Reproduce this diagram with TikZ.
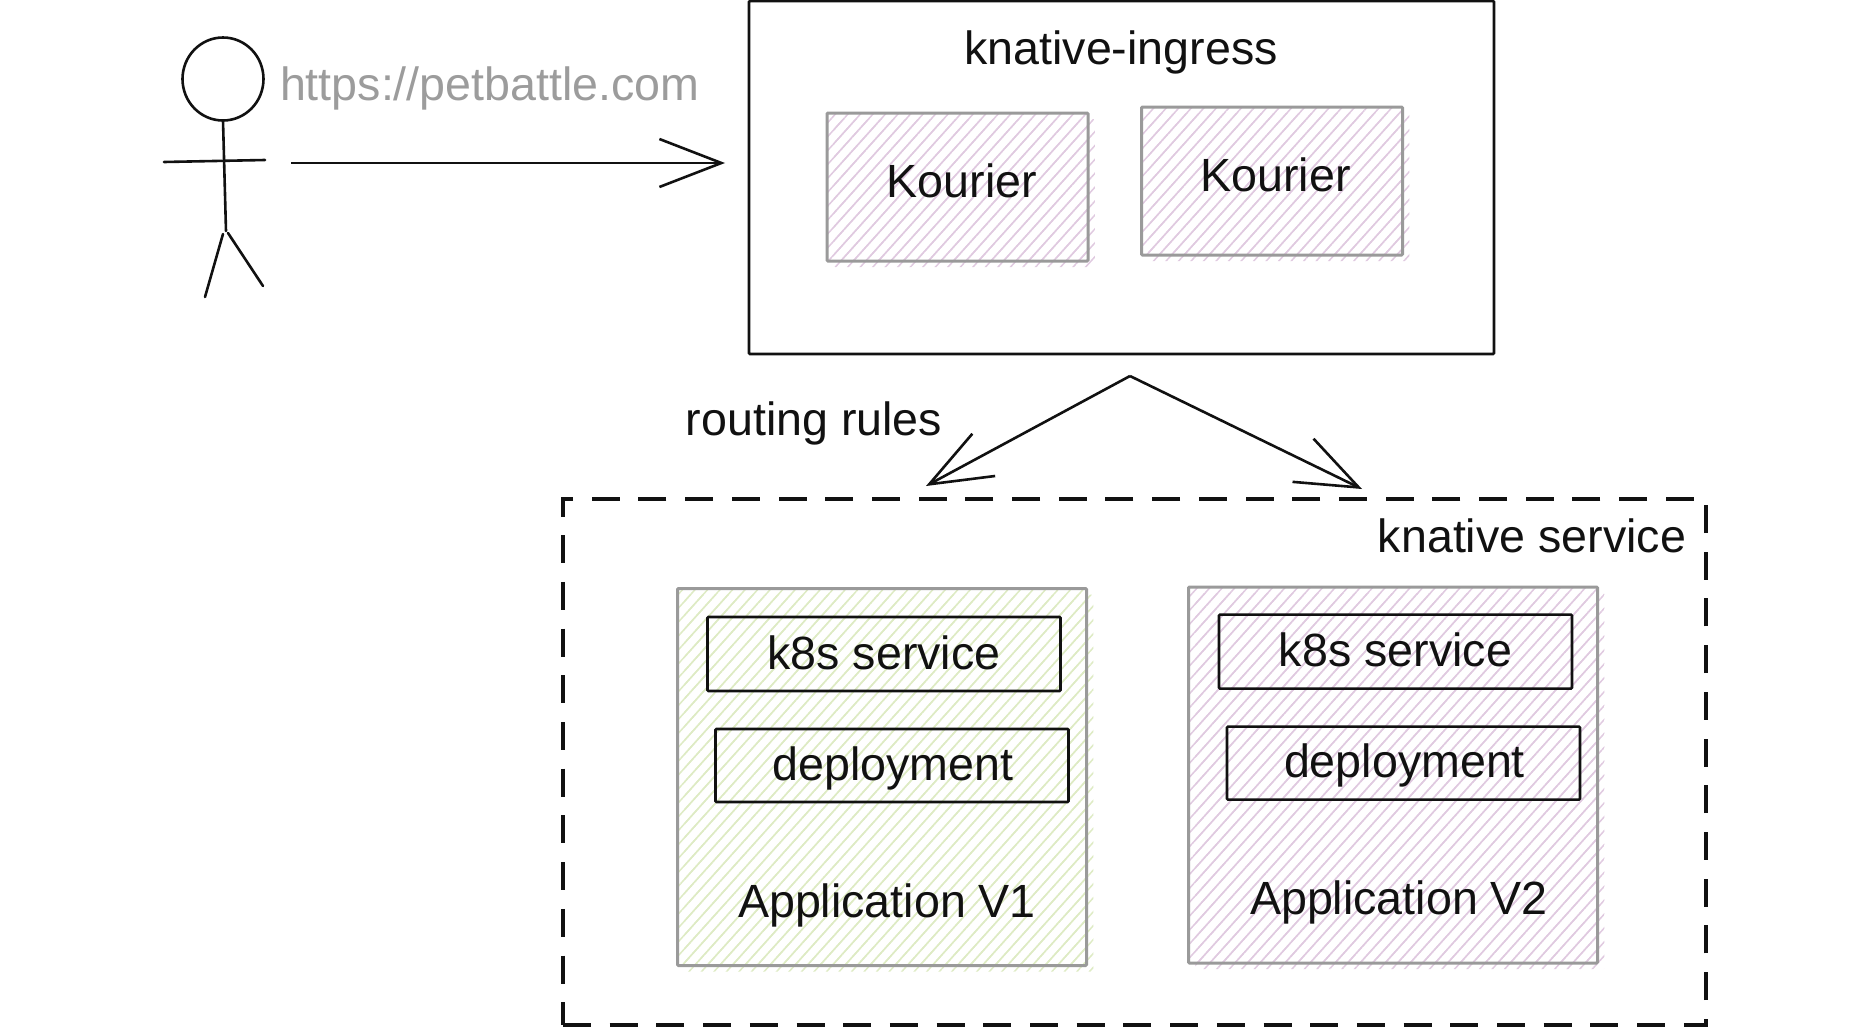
\documentclass[tikz,border=0pt]{standalone}
\usepackage{fontspec}
\setmainfont{Liberation Sans}
\usetikzlibrary{arrows.meta,patterns.meta,shapes.geometric}
\definecolor{hatch purple}{HTML}{E0CAE0}
\definecolor{hatch green}{HTML}{DEEBC4}
\definecolor{url gray}{HTML}{9C9C9C}
\definecolor{box gray}{HTML}{9A9A9A}
\definecolor{ink}{HTML}{111111}
\begin{document}
\begin{tikzpicture}[
    x=1pt, y=-1pt,
    every node/.style={inner sep=0pt, outer sep=0pt},
    label text/.style={anchor=base, text=ink, font=\fontsize{46.6}{50}\selectfont},
    plain box/.style={draw=ink, line width=2.6pt, rounded corners=1pt},
    hatch lines/.style={pattern={Lines[angle=48,distance=9.3pt,line width=1.5pt]}, pattern color=#1},
    hatch box/.style={
        preaction={draw=none, hatch lines=#1, transform canvas={shift={(6.95,6.18)}}},
        hatch lines=#1,
        draw=box gray, line width=3pt, rounded corners=1pt},
    stick line/.style={draw=ink, line width=2.6pt, line cap=round},
    open arrow/.style={draw=ink, line width=2.6pt, -{Straight Barb[length=62pt,width=48pt]}},
    ]
\useasboundingbox (0,0) rectangle (1872,1028);
% person
\node[ellipse, draw=ink, line width=2.6pt, minimum width=81pt, minimum height=83pt] (head) at (223,79) {};
\coordinate (hip) at (226,231);
\coordinate (armL) at (164,162);
\coordinate (armR) at (265,160);
\coordinate (legLtop) at (223,234);
\coordinate (legL) at (205,297);
\coordinate (legRtop) at (228,233);
\coordinate (legR) at (263,286);
\draw[stick line] (head.south) -- (hip);
\draw[stick line] (armL) -- (armR);
\draw[stick line] (legLtop) -- (legL);
\draw[stick line] (legRtop) -- (legR);
\node[label text, anchor=base west, text=url gray] (url) at (280,100) {https://petbattle.com};
% ingress
\node[plain box, minimum width=745pt, minimum height=353pt] (ingress) at (1121.5,177.5) {};
\node[label text] (ingressText) at (1121,64) {knative-ingress};
\node[hatch box=hatch purple, minimum width=261pt, minimum height=148pt] (kourierA) at (957.5,187) {};
\node[hatch box=hatch purple, minimum width=261pt, minimum height=148pt] (kourierB) at (1272,181) {};
\node[label text] (kourierAText) at (962,197) {Kourier};
\node[label text] (kourierBText) at (1275.5,191) {Kourier};
% user to ingress
\coordinate (userOut) at (291,163);
\coordinate (ingressIn) at (725,163);
\draw[open arrow] (userOut) -- (ingressIn);
% routing
\coordinate (split) at (1130,376);
\coordinate (toV1) at (926,486);
\coordinate (toV2) at (1362,489);
\draw[open arrow] (split) -- (toV1);
\draw[open arrow] (split) -- (toV2);
\node[label text] (routing) at (814,435) {routing rules};
% knative service
\node[draw=ink, line width=4pt, dash pattern=on 28pt off 18.7pt, minimum width=1143pt, minimum height=526pt] (service) at (1134.5,761.5) {};
\node[label text] (serviceText) at (1532,552) {knative service};
% application v1
\node[hatch box=hatch green, minimum width=409pt, minimum height=377pt] (appA) at (882,777) {};
\node[plain box, minimum width=353pt, minimum height=74pt] (k8sA) at (884,654) {};
\node[plain box, minimum width=353pt, minimum height=73pt] (deployA) at (892,765.5) {};
\node[label text] (k8sAText) at (884,669) {k8s service};
\node[label text] (deployAText) at (893,780) {deployment};
\node[label text] (appAText) at (887,917) {Application V1};
% application v2
\node[hatch box=hatch purple, minimum width=409pt, minimum height=376pt] (appB) at (1393,775) {};
\node[plain box, minimum width=353pt, minimum height=74pt] (k8sB) at (1395.5,651.6) {};
\node[plain box, minimum width=353pt, minimum height=73pt] (deployB) at (1403.5,763.1) {};
\node[label text] (k8sBText) at (1395.5,666.6) {k8s service};
\node[label text] (deployBText) at (1404.5,777.6) {deployment};
\node[label text] (appBText) at (1399,914) {Application V2};
\end{tikzpicture}
\end{document}
